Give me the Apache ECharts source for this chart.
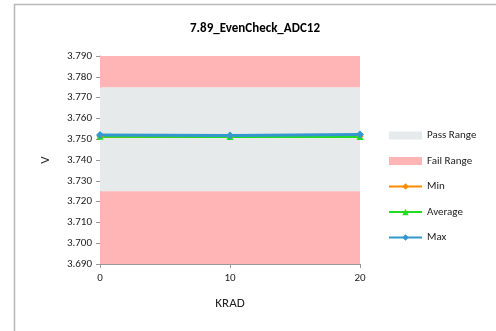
<!DOCTYPE html>
<html><head><meta charset="utf-8">
<script src="https://cdn.jsdelivr.net/npm/echarts@6/dist/echarts.min.js"></script>
<style>html,body{margin:0;padding:0;background:#fff}#c{width:496px;height:331px}</style>
</head><body><div id="c"></div>
<script>
const title = '7.89_EvenCheck_ADC12';
const xValues = [0, 10, 20];
const minValues = [3.7513, 3.7513, 3.7514];
const avgValues = [3.7514, 3.7513, 3.7513];
const maxValues = [3.7520, 3.7518, 3.7523];
const passRange = [3.725, 3.775];
const axisMin = 3.69, axisMax = 3.79;
const xMin = 0, xMax = 20;

const pair = arr => xValues.map((x, i) => [x, arr[i]]);
const font = 'Calibri, Carlito, "Open Sans", "Liberation Sans", sans-serif';

const chart = echarts.init(document.getElementById('c'));
chart.setOption({
  animation: false,
  textStyle: { fontFamily: font },
  graphic: [{ type: 'rect', shape: { x: 14.5, y: 4.5, width: 500, height: 340 }, style: { fill: 'none', stroke: '#b8b8b8', lineWidth: 1.5 }, silent: true }],
  title: { text: title, left: 250, textAlign: 'center', top: 17, textStyle: { fontSize: 13, fontWeight: 'bold', color: '#000', fontFamily: font } },
  grid: { left: 100, right: 136, top: 56, bottom: 67 },
  legend: {
    orient: 'vertical', left: 383, top: 125, itemGap: 14.5, itemWidth: 33, itemHeight: 8,
    textStyle: { fontSize: 11, color: '#222', fontFamily: font },
    data: [
      { name: 'Pass Range', icon: 'rect' },
      { name: 'Fail Range', icon: 'rect' },
      'Min', 'Average', 'Max'
    ]
  },
  xAxis: {
    type: 'value', min: xMin, max: xMax, interval: 10,
    name: 'KRAD', nameLocation: 'middle', nameGap: 33,
    nameTextStyle: { fontSize: 13, color: '#222' },
    axisLine: { lineStyle: { color: '#999' } },
    axisTick: { show: true, length: 4, lineStyle: { color: '#999' } },
    axisLabel: { fontSize: 11, color: '#222', margin: 9 },
    splitLine: { show: false }
  },
  yAxis: {
    type: 'value', min: axisMin, max: axisMax, interval: 0.01,
    name: 'V', nameLocation: 'middle', nameGap: 48, nameRotate: 90,
    nameTextStyle: { fontSize: 13, color: '#222' },
    axisLine: { show: true, lineStyle: { color: '#999' } },
    axisTick: { show: true, length: 4, lineStyle: { color: '#999' } },
    axisLabel: { fontSize: 11, color: '#222', margin: 8, formatter: v => v.toFixed(3) },
    splitLine: { show: false }
  },
  series: [
    {
      name: 'Pass Range', type: 'line', data: [], itemStyle: { color: '#e6eaea' }, lineStyle: { width: 0 }, symbol: 'none',
      markArea: { silent: true, itemStyle: { color: '#e6eaea' }, data: [[{ yAxis: passRange[0] }, { yAxis: passRange[1] }]] }
    },
    {
      name: 'Fail Range', type: 'line', data: [], itemStyle: { color: '#ffb5b5' }, lineStyle: { width: 0 }, symbol: 'none',
      markArea: { silent: true, itemStyle: { color: '#ffb5b5' }, data: [
        [{ yAxis: axisMin }, { yAxis: passRange[0] }],
        [{ yAxis: passRange[1] }, { yAxis: axisMax }]
      ] }
    },
    { name: 'Min', type: 'line', data: pair(minValues), symbol: 'diamond', symbolSize: 7, itemStyle: { color: '#ff8c00' }, lineStyle: { width: 3, color: '#ff8c00' } },
    { name: 'Average', type: 'line', data: pair(avgValues), symbol: 'triangle', symbolSize: 7, itemStyle: { color: '#22dd22' }, lineStyle: { width: 3, color: '#22dd22' } },
    { name: 'Max', type: 'line', data: pair(maxValues), symbol: 'diamond', symbolSize: 8, itemStyle: { color: '#3399cc' }, lineStyle: { width: 3, color: '#3399cc' } }
  ]
});
</script></body></html>
